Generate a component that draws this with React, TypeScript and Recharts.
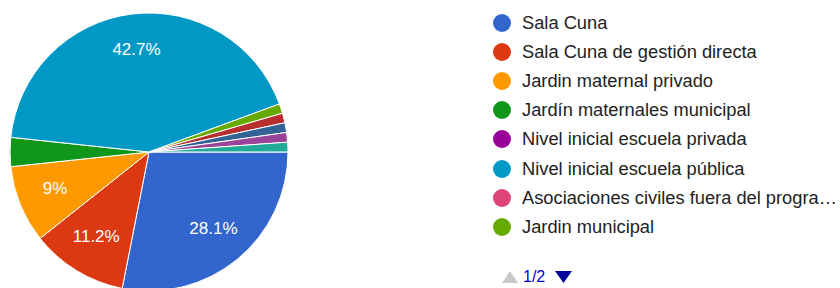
import { PieChart, Pie, Cell, Legend } from 'recharts';

const categories = [
  'Sala Cuna',
  'Sala Cuna de gestión directa',
  'Jardin maternal privado',
  'Jardín maternales municipal',
  'Nivel inicial escuela privada',
  'Nivel inicial escuela pública',
  'Asociaciones civiles fuera del programa',
  'Jardin municipal',
  'Otro 1',
  'Otro 2',
  'Otro 3',
  'Otro 4',
];
const responses = [25, 10, 8, 3, 0, 38, 0, 1, 1, 1, 1, 1];
const colors = [
  '#3366cc', '#dc3912', '#ff9900', '#109618', '#990099', '#0099c6',
  '#dd4477', '#66aa00', '#b82e2e', '#316395', '#994499', '#22aa99',
];
const legendLabels = [
  'Sala Cuna',
  'Sala Cuna de gestión directa',
  'Jardin maternal privado',
  'Jardín maternales municipal',
  'Nivel inicial escuela privada',
  'Nivel inicial escuela pública',
  'Asociaciones civiles fuera del progra…',
  'Jardin municipal',
];

const data = categories.map((name, i) => ({ name, value: responses[i] }));
const font = '"Liberation Sans", Arial, sans-serif';
const RAD = Math.PI / 180;

function renderLabel(props: any) {
  const { cx, cy, midAngle, outerRadius, percent } = props;
  if (percent < 0.05) return null;
  const r = outerRadius * 0.73;
  const x = cx + r * Math.cos(-midAngle * RAD);
  const y = cy + r * Math.sin(-midAngle * RAD) - 2;
  const pct = Math.round(percent * 1000) / 10;
  return (
    <text x={x} y={y} fill="#fff" textAnchor="middle" dominantBaseline="central" fontSize={17} fontFamily={font}>
      {`${pct}%`}
    </text>
  );
}

function LegendList() {
  return (
    <div style={{ fontFamily: font, fontSize: 18.3, color: '#222', whiteSpace: 'nowrap' }}>
      {legendLabels.map((label, i) => (
        <div key={label} style={{ display: 'flex', alignItems: 'center', height: 29.2 }}>
          <span
            style={{
              width: 18,
              height: 18,
              flex: '0 0 18px',
              borderRadius: '50%',
              background: colors[i],
              display: 'inline-block',
              marginRight: 11,
            }}
          />
          <span>{label}</span>
        </div>
      ))}
      <div style={{ display: 'flex', alignItems: 'center', marginTop: 26, fontSize: 16 }}>
        <svg width={16} height={12} style={{ marginLeft: 9, marginRight: 5 }}>
          <polygon points="8,0 16,12 0,12" fill="#c8c8c8" />
        </svg>
        <span style={{ color: '#0000cc' }}>1/2</span>
        <svg width={17} height={12} style={{ marginLeft: 10 }}>
          <polygon points="0,0 17,0 8.5,12" fill="#000099" />
        </svg>
      </div>
    </div>
  );
}

export default function App() {
  return (
    <div style={{ position: 'absolute', left: 0, top: 0, width: 840, height: 288, background: '#fff' }}>
      <PieChart width={840} height={288} margin={{ top: 0, right: 0, bottom: 0, left: 0 }}>
        <Pie
          data={data}
          dataKey="value"
          nameKey="name"
          cx={149}
          cy={152}
          outerRadius={139}
          startAngle={0}
          endAngle={-360}
          stroke="#fff"
          strokeWidth={1}
          label={renderLabel}
          labelLine={false}
          isAnimationActive={false}
        >
          {data.map((d, i) => (
            <Cell key={d.name} fill={colors[i]} />
          ))}
        </Pie>
        <Legend
          layout="vertical"
          align="right"
          verticalAlign="top"
          content={() => <LegendList />}
          wrapperStyle={{ left: 493, top: 8, width: 347 }}
        />
      </PieChart>
    </div>
  );
}
